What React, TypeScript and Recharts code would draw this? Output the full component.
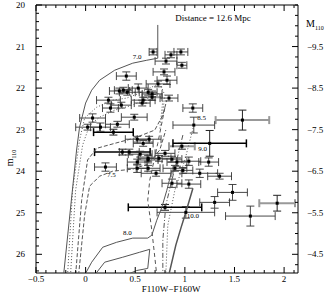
import React from 'react';
import { ScatterChart, Scatter, XAxis, YAxis, ErrorBar } from 'recharts';

// F110W-F160W colour, F110W magnitude and their errors for every source
const COLOR = [0.68, 0.86, 0.96, 0.81, 0.97, 0.79, 0.41, 0.82, 0.73, 0.34, 0.38, 0.42, 0.53, 0.63, 0.67, 0.84, 0.67, 0.58, 0.57, 0.23, 0.36, 0.25, 1.08, 1.09, 1.58, 0.49, 0.32, 0.07, 0.02, 0.15, 0.28, 0.52, 0.64, 0.58, 1.25, 0.97, 0.37, 0.44, 0.55, 0.63, 0.74, 0.8, 0.87, 0.92, 1.04, 1.24, 0.52, 0.52, 0.63, 0.63, 0.2, 0.71, 0.9, 0.98, 1.15, 1.35, 0.87, 1.04, 1.48, 1.3, 1.93, 0.8, 1.01, 1.66];
const COLOR_ERR = [0.04, 0.06, 0.07, 0.11, 0.05, 0.11, 0.1, 0.1, 0.12, 0.1, 0.09, 0.08, 0.1, 0.09, 0.1, 0.09, 0.1, 0.12, 0.08, 0.12, 0.1, 0.08, 0.1, 0.21, 0.27, 0.13, 0.12, 0.13, 0.12, 0.1, 0.2, 0.12, 0.12, 0.1, 0.37, 0.13, 0.28, 0.1, 0.12, 0.1, 0.12, 0.1, 0.1, 0.1, 0.12, 0.1, 0.1, 0.1, 0.1, 0.12, 0.11, 0.15, 0.12, 0.1, 0.18, 0.12, 0.1, 0.12, 0.15, 0.15, 0.18, 0.37, 0.29, 0.25];
const MAG = [21.13, 21.2, 21.13, 21.35, 21.45, 21.61, 21.71, 21.81, 21.9, 22.07, 22.05, 22.1, 22.0, 22.1, 22.14, 22.24, 22.22, 22.29, 22.36, 22.29, 22.41, 22.48, 22.48, 22.89, 22.77, 22.7, 22.87, 22.72, 22.94, 22.94, 23.06, 23.23, 23.23, 23.33, 23.33, 23.4, 23.54, 23.54, 23.59, 23.69, 23.69, 23.57, 23.71, 23.78, 23.76, 23.78, 23.78, 23.93, 23.73, 23.93, 23.9, 24.05, 23.93, 23.98, 24.05, 24.12, 24.29, 24.31, 24.51, 24.75, 24.77, 24.87, 24.99, 25.08];
const MAG_ERR = [0.07, 0.07, 0.07, 0.07, 0.07, 0.07, 0.1, 0.1, 0.07, 0.07, 0.07, 0.07, 0.1, 0.07, 0.07, 0.07, 0.07, 0.07, 0.07, 0.07, 0.07, 0.1, 0.1, 0.19, 0.24, 0.07, 0.07, 0.1, 0.07, 0.1, 0.07, 0.07, 0.07, 0.07, 0.31, 0.07, 0.07, 0.07, 0.07, 0.07, 0.07, 0.07, 0.07, 0.1, 0.1, 0.1, 0.07, 0.1, 0.07, 0.07, 0.1, 0.07, 0.07, 0.07, 0.1, 0.07, 0.1, 0.1, 0.19, 0.14, 0.19, 0.07, 0.14, 0.24];

// sources whose bars print heavier in the figure
const GREY_BARS = [16, 24, 35, 60];
const BOLD_BARS = [30, 34, 36, 61];

const DIST_MOD = 30.5;

// isochrones, [colour, mag]
const ISO_A = [[-0.222, 26.5], [-0.091, 23.49], [-0.061, 22.94], [0.0, 22.36], [0.061, 22.05], [0.141, 21.81], [0.293, 21.57], [0.475, 21.4], [0.616, 21.33], [0.727, 21.28], [0.727, 20.48]];
const ISO_B = [[-0.182, 26.5], [-0.131, 24.46], [-0.061, 23.25], [-0.01, 22.72], [0.111, 22.46], [0.273, 22.29], [0.414, 22.24], [0.545, 22.12], [0.646, 22.0], [0.747, 21.88], [0.798, 22.17], [0.768, 22.77]];
const ISO_C = [[-0.152, 26.5], [-0.101, 24.46], [-0.03, 23.37], [0.04, 22.89], [0.141, 22.7], [0.293, 22.53], [0.444, 22.43], [0.596, 22.29], [0.727, 22.12], [0.778, 22.29], [0.747, 23.01]];
const ISO_D = [[-0.101, 26.5], [-0.04, 24.7], [0.02, 23.73], [0.111, 23.45], [0.293, 23.33], [0.495, 23.2], [0.697, 23.01], [0.778, 22.65], [0.818, 22.29]];
const ISO_E = [[-0.071, 26.5], [-0.01, 25.06], [0.04, 24.36], [0.141, 24.12], [0.273, 24.0], [0.475, 23.95], [0.626, 23.83], [0.747, 23.49], [0.808, 23.01]];
const ISO_F = [[-0.01, 26.5], [0.061, 26.19], [0.172, 25.83], [0.313, 25.71], [0.475, 25.61], [0.626, 25.61], [0.667, 25.54], [0.717, 25.18], [0.768, 24.87], [0.818, 24.46], [0.869, 23.98]];
const ISO_G = [[0.091, 26.5], [0.192, 26.19], [0.374, 26.07], [0.545, 25.95], [0.646, 25.88], [0.626, 26.34], [0.515, 26.39], [0.404, 26.5]];
const ISO_H = [[0.798, 22.48], [0.727, 23.33], [0.646, 24.22], [0.626, 24.7], [0.667, 25.42], [0.717, 26.5]];
const ISO_I = [[0.98, 23.13], [0.869, 24.22], [0.808, 24.82], [0.778, 25.66], [0.778, 26.5]];
const ISO_J = [[1.091, 22.89], [1.0, 23.73], [0.899, 24.46], [0.828, 25.3], [0.808, 26.5]];
const ISO_K = [[0.838, 26.5], [0.909, 25.78], [0.96, 25.37], [1.01, 24.99], [1.081, 24.41]];

const AGE_LABELS = ['7.0', '7.5', '8.0', '8.5', '9.0', '10.0'];
const AGE_X = [0.52, 0.26, 0.42, 1.17, 1.18, 1.08];
const AGE_Y = [21.25, 24.07, 25.47, 22.7, 23.45, 25.06];

const X_TICKS = [-0.5, 0, 0.5, 1, 1.5, 2];
const M_TICKS = [20, 21, 22, 23, 24, 25, 26];
const ABS_TICKS = [-9.5, -8.5, -7.5, -6.5, -5.5, -4.5];

const X_DOMAIN: [number, number] = [-0.5, 2.14];
const Y_DOMAIN: [number, number] = [20, 26.45];
const ABS_DOMAIN: [number, number] = [Y_DOMAIN[0] - DIST_MOD, Y_DOMAIN[1] - DIST_MOD];

const steps = (a: number, b: number, s: number) => {
  const out: number[] = [];
  for (let v = a; v <= b + 1e-9; v += s) out.push(Math.round(v * 100) / 100);
  return out;
};

const X_ALL = steps(-0.5, 2.1, 0.1);
const M_ALL = steps(20, 26.4, 0.2);
const ABS_ALL = steps(-10.5, -4.25, 0.25);

const FONT = "'Liberation Serif', serif";
const isMajor = (v: number, majors: number[]) => majors.some((m) => Math.abs(m - v) < 1e-6);
const fmt = (v: number) => (v < 0 ? '\u2212' + Math.abs(v) : String(v));

const BottomTick = (p: any) => {
  const v = p.payload.value;
  const major = isMajor(v, X_TICKS);
  const edge = p.y - 3;
  return (
    <g>
      <line x1={p.x} x2={p.x} y1={edge} y2={edge - (major ? 6 : 3)} stroke="#000" />
      {major && (
        <text x={p.x} y={p.y} dy="0.71em" textAnchor="middle" fontSize={9} fontFamily={FONT} fill="#000">
          {fmt(v)}
        </text>
      )}
    </g>
  );
};

const TopTick = (p: any) => {
  const major = isMajor(p.payload.value, X_TICKS);
  return <line x1={p.x} x2={p.x} y1={p.y} y2={p.y + (major ? 6 : 3)} stroke="#000" />;
};

const LeftTick = (p: any) => {
  const v = p.payload.value;
  const major = isMajor(v, M_TICKS);
  const edge = p.x + 11;
  return (
    <g>
      <line x1={edge} x2={edge + (major ? 6 : 3)} y1={p.y} y2={p.y} stroke="#000" />
      {major && (
        <text x={p.x} y={p.y} dy="0.355em" textAnchor="end" fontSize={9} fontFamily={FONT} fill="#000">
          {fmt(v)}
        </text>
      )}
    </g>
  );
};

const RightTick = (p: any) => {
  const v = p.payload.value;
  const major = isMajor(v, ABS_TICKS);
  const edge = p.x - 9;
  return (
    <g>
      <line x1={edge} x2={edge - (major ? 6 : 3)} y1={p.y} y2={p.y} stroke="#000" />
      {major && (
        <text x={p.x} y={p.y} dy="0.355em" textAnchor="start" fontSize={9} fontFamily={FONT} fill="#000">
          {fmt(v)}
        </text>
      )}
    </g>
  );
};

const Square = (p: any) => <rect x={p.cx - 1.5} y={p.cy - 1.5} width={3} height={3} fill="#000" />;
const Nothing = () => <g />;
const AgeText = (p: any) => (
  <text x={p.cx} y={p.cy} dy="0.35em" textAnchor="middle" fontSize={7} fontFamily={FONT} fill="#000">
    {p.payload?.t}
  </text>
);

const rows = COLOR.map((c, i) => ({ x: c, y: MAG[i], ex: COLOR_ERR[i], ey: MAG_ERR[i] }));
const plain = rows.filter((_, i) => !GREY_BARS.includes(i) && !BOLD_BARS.includes(i));
const grey = rows.filter((_, i) => GREY_BARS.includes(i));
const bold = rows.filter((_, i) => BOLD_BARS.includes(i));
const ageRows = AGE_LABELS.map((t, i) => ({ x: AGE_X[i], y: AGE_Y[i], t }));
const pts = (c: number[][]) => c.map(([x, y]) => ({ x, y }));

const curves = [
  { d: ISO_A, dash: undefined, w: 1 },
  { d: ISO_B, dash: '1 2', w: 1 },
  { d: ISO_C, dash: '1 2', w: 1 },
  { d: ISO_D, dash: '4 2', w: 1 },
  { d: ISO_E, dash: '4 2', w: 1 },
  { d: ISO_F, dash: undefined, w: 1 },
  { d: ISO_G, dash: undefined, w: 1 },
  { d: ISO_H, dash: '4 3', w: 1 },
  { d: ISO_I, dash: '5 2 1 2', w: 1 },
  { d: ISO_J, dash: '1 2', w: 1 },
  { d: ISO_K, dash: undefined, w: 1.5 },
];

const text: React.CSSProperties = {
  position: 'absolute',
  fontFamily: FONT,
  color: '#000',
  whiteSpace: 'nowrap',
  lineHeight: 1,
};

export default function App() {
  return (
    <div style={{ position: 'absolute', left: 0, top: 0, width: 325, height: 307, background: '#fff' }}>
      <ScatterChart width={325} height={307} margin={{ top: 0, right: 0, bottom: 0, left: 0 }}>
        <XAxis
          xAxisId="b" dataKey="x" type="number" domain={X_DOMAIN} allowDataOverflow
          ticks={X_ALL} interval={0} height={34} tickSize={0} tickMargin={3}
          tickLine={false} axisLine={{ stroke: '#000' }} tick={BottomTick}
        />
        <XAxis
          xAxisId="t" dataKey="x" orientation="top" type="number" domain={X_DOMAIN} allowDataOverflow
          ticks={X_ALL} interval={0} height={5} tickSize={0} tickMargin={0}
          tickLine={false} axisLine={{ stroke: '#000' }} tick={TopTick}
        />
        <YAxis
          yAxisId="l" dataKey="y" type="number" domain={Y_DOMAIN} reversed allowDataOverflow
          ticks={M_ALL} interval={0} width={36} tickSize={0} tickMargin={11}
          tickLine={false} axisLine={{ stroke: '#000' }} tick={LeftTick}
        />
        <YAxis
          yAxisId="r" dataKey="y" orientation="right" type="number" domain={ABS_DOMAIN} reversed allowDataOverflow
          ticks={ABS_ALL} interval={0} width={27} tickSize={0} tickMargin={9}
          tickLine={false} axisLine={{ stroke: '#000' }} tick={RightTick}
        />
        {curves.map((c, i) => (
          <Scatter
            key={i} xAxisId="b" yAxisId="l" data={pts(c.d)} shape={Nothing} isAnimationActive={false}
            line={{ stroke: '#555', strokeWidth: c.w, strokeDasharray: c.dash }} lineType="joint"
          />
        ))}
        <Scatter xAxisId="b" yAxisId="l" data={grey} shape={Square} isAnimationActive={false}>
          <ErrorBar dataKey="ex" direction="x" width={4} stroke="#999" strokeWidth={2} />
          <ErrorBar dataKey="ey" direction="y" width={4} stroke="#222" strokeWidth={1} />
        </Scatter>
        <Scatter xAxisId="b" yAxisId="l" data={bold} shape={Square} isAnimationActive={false}>
          <ErrorBar dataKey="ex" direction="x" width={4} stroke="#000" strokeWidth={1.5} />
          <ErrorBar dataKey="ey" direction="y" width={4} stroke="#222" strokeWidth={1} />
        </Scatter>
        <Scatter xAxisId="b" yAxisId="l" data={plain} shape={Square} isAnimationActive={false}>
          <ErrorBar dataKey="ex" direction="x" width={4} stroke="#333" strokeWidth={0.9} />
          <ErrorBar dataKey="ey" direction="y" width={4} stroke="#333" strokeWidth={0.9} />
        </Scatter>
        <Scatter xAxisId="b" yAxisId="l" data={ageRows} shape={AgeText} isAnimationActive={false} />
      </ScatterChart>
      <div style={{ ...text, left: 213, top: 18, fontSize: 9, transform: 'translate(-50%, -50%)' }}>
        Distance = 12.6 Mpc
      </div>
      <div style={{ ...text, left: 306, top: 19, fontSize: 10 }}>
        M<sub style={{ fontSize: 6 }}>110</sub>
      </div>
      <div style={{ ...text, left: 11, top: 158, fontSize: 10, transform: 'translate(-50%, -50%) rotate(-90deg)' }}>
        m<sub style={{ fontSize: 6 }}>110</sub>
      </div>
      <div style={{ ...text, left: 171, top: 289, fontSize: 9, transform: 'translate(-50%, -50%)' }}>
        F110W{'\u2212'}F160W
      </div>
    </div>
  );
}
